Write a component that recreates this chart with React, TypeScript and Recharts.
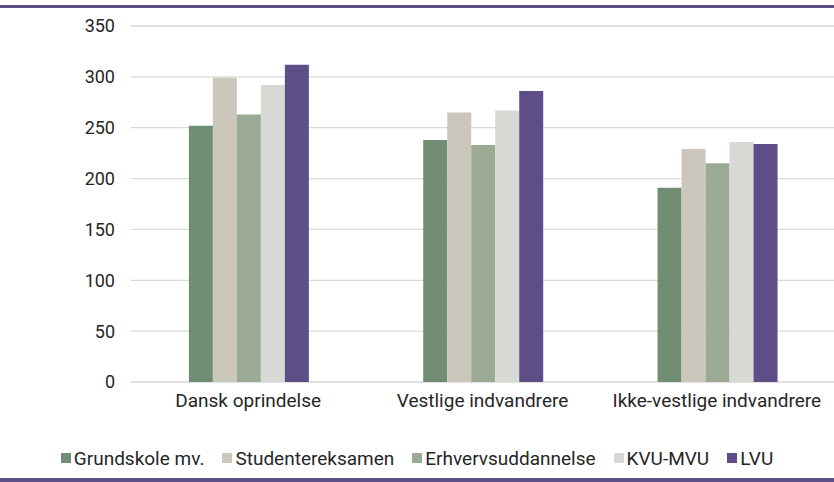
import React from "react";
import { BarChart, Bar, XAxis, YAxis, CartesianGrid } from "recharts";

const categories = ["Dansk oprindelse", "Vestlige indvandrere", "Ikke-vestlige indvandrere"];
const seriesNames = ["Grundskole mv.", "Studentereksamen", "Erhvervsuddannelse", "KVU-MVU", "LVU"];
const grundskole = [252, 238, 191];
const student = [299, 265, 229];
const erhverv = [263, 233, 215];
const kvumvu = [292, 267, 236];
const lvu = [312, 286, 234];
const yTicks = [0, 50, 100, 150, 200, 250, 300, 350];
const colors = ["#718d73", "#cbc7bc", "#9aaa94", "#d6d9d4", "#5e4e87"];

const seriesValues = [grundskole, student, erhverv, kvumvu, lvu];
const keys = ["s0", "s1", "s2", "s3", "s4"];
const data = categories.map((c, i) => {
  const row: any = { name: c };
  keys.forEach((k, j) => (row[k] = seriesValues[j][i]));
  return row;
});

const FONT = "Roboto, 'Liberation Sans', sans-serif";

const LegendBlock = () => (
  <div
    style={{
      position: "absolute",
      left: 0,
      top: 446,
      width: 834,
      height: 24,
      display: "flex",
      justifyContent: "center",
      alignItems: "center",
      fontFamily: FONT,
      fontSize: 19,
      color: "#262626",
      whiteSpace: "nowrap",
    }}
  >
    {seriesNames.map((n, i) => (
      <div key={n} style={{ display: "flex", alignItems: "center", marginRight: i < seriesNames.length - 1 ? 18 : 0 }}>
        <span style={{ width: 10, height: 10, background: colors[i], display: "inline-block", marginRight: 3 }} />
        <span>{n}</span>
      </div>
    ))}
  </div>
);

export default function App() {
  return (
    <div style={{ position: "absolute", left: 0, top: 0, width: 834, height: 482, background: "#fff" }}>
      <div style={{ position: "absolute", left: 0, top: 5, width: 834, height: 3, background: "#5e4e87" }} />
      <div style={{ position: "absolute", left: 0, top: 478, width: 834, height: 4, background: "#5e4e87" }} />
      <div style={{ position: "absolute", left: 0, top: 0 }}>
        <BarChart
          width={834}
          height={482}
          data={data}
          margin={{ top: 26, right: 0, left: 0, bottom: 70 }}
          barGap={0}
          barCategoryGap="24.7%"
        >
          <CartesianGrid vertical={false} stroke="#d9d9d9" strokeWidth={1.3} />
          <XAxis
            dataKey="name"
            height={30}
            axisLine={false}
            tickLine={false}
            tickSize={0}
            tickMargin={12}
            interval={0}
            tick={{ fill: "#262626", fontSize: 19, fontFamily: FONT }}
          />
          <YAxis
            width={131}
            domain={[0, 350]}
            ticks={yTicks}
            axisLine={false}
            tickLine={false}
            tickSize={0}
            tickMargin={16}
            tick={{ fill: "#262626", fontSize: 18, fontFamily: FONT }}
          />
          {keys.map((k, i) => (
            <Bar key={k} dataKey={k} name={seriesNames[i]} fill={colors[i]} isAnimationActive={false} />
          ))}
        </BarChart>
      </div>
      <LegendBlock />
    </div>
  );
}
